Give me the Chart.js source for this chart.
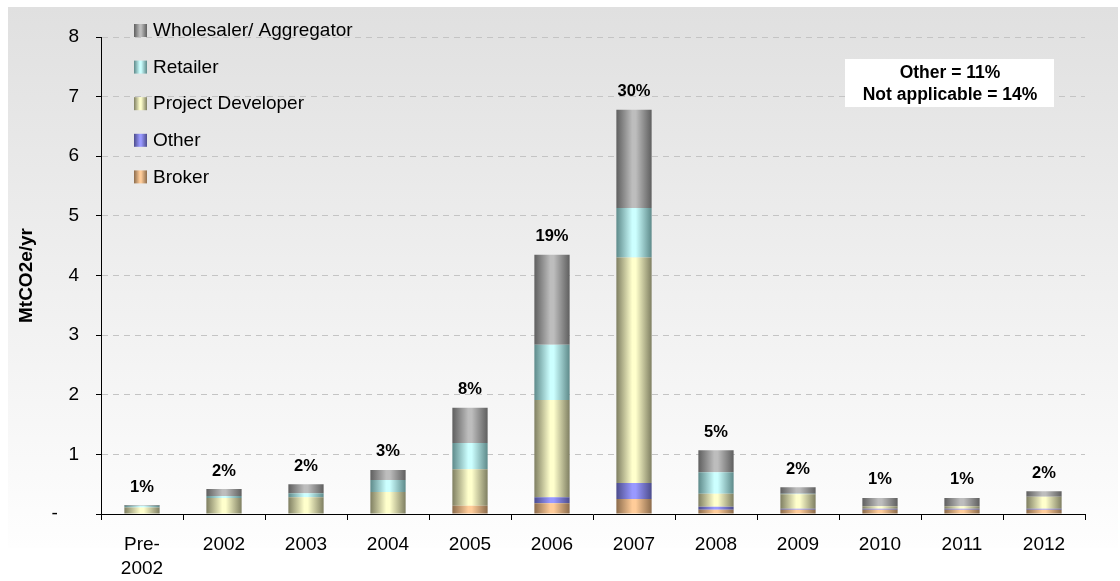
<!DOCTYPE html>
<html>
<head>
<meta charset="utf-8">
<script src="https://cdn.jsdelivr.net/npm/chart.js@4/dist/chart.umd.min.js"></script>
<style>
  html, body { margin: 0; padding: 0; background: #fff; }
  #wrap { width: 1120px; height: 581px; position: relative; }
</style>
</head>
<body>
<div id="wrap"><canvas id="offsetChart" width="1120" height="581"></canvas></div>
<script>
const categories = [["Pre-", "2002"], "2002", "2003", "2004", "2005", "2006", "2007", "2008", "2009", "2010", "2011", "2012"];
const broker     = [0, 0, 0, 0, 0.14, 0.18, 0.25, 0.07, 0.07, 0.07, 0.07, 0.07];
const other      = [0, 0, 0, 0, 0, 0.10, 0.27, 0.05, 0.02, 0.02, 0.02, 0.02];
const project    = [0.11, 0.27, 0.28, 0.37, 0.61, 1.63, 3.78, 0.22, 0.24, 0.04, 0.04, 0.20];
const retailer   = [0.03, 0.03, 0.07, 0.20, 0.44, 0.93, 0.83, 0.36, 0.01, 0, 0, 0];
const wholesaler = [0.01, 0.12, 0.15, 0.17, 0.59, 1.51, 1.65, 0.37, 0.11, 0.14, 0.14, 0.09];
const shareLabels = ["1%", "2%", "2%", "3%", "8%", "19%", "30%", "5%", "2%", "1%", "1%", "2%"];
const yTicks = [0, 1, 2, 3, 4, 5, 6, 7, 8];
const noteLines = ["Other = 11%", "Not applicable = 14%"];

const FONT = "Arial, 'Liberation Sans', sans-serif";
const BAR_PCT = 0.43;

// edge / centre colours for the cylinder-like shading
const shades = {
  broker:     ["#8c6c4c", "#ffcc99"],
  other:      ["#4c4c8c", "#9999ff"],
  project:    ["#7f7f62", "#ffffcc"],
  retailer:   ["#5e8a8a", "#ccffff"],
  wholesaler: ["#5f5f5f", "#bdbdbd"],
};

function shadeGradient(ctx, x0, x1, pair) {
  const g = ctx.createLinearGradient(x0, 0, x1, 0);
  g.addColorStop(0, pair[0]);
  g.addColorStop(0.45, pair[1]);
  g.addColorStop(0.55, pair[1]);
  g.addColorStop(1, pair[0]);
  return g;
}

function barFill(pair) {
  return (c) => {
    const chart = c.chart;
    const xs = chart.scales.x;
    if (!chart.chartArea || !xs || c.dataIndex === undefined) return pair[1];
    const cx = xs.getPixelForValue(c.dataIndex);
    const w = xs.width / categories.length * BAR_PCT;
    return shadeGradient(chart.ctx, cx - w / 2, cx + w / 2, pair);
  };
}

const backdrop = {
  id: "backdrop",
  beforeDraw(chart) {
    const ctx = chart.ctx;
    ctx.save();
    ctx.fillStyle = "#fff";
    ctx.fillRect(0, 0, chart.width, chart.height);
    const g = ctx.createLinearGradient(0, 7, 0, 548);
    g.addColorStop(0, "#e0e0e0");
    g.addColorStop(1, "#fefefe");
    ctx.fillStyle = g;
    ctx.fillRect(8, 7, 1110, 541);
    ctx.restore();
  }
};

const extras = {
  id: "extras",
  afterDraw(chart) {
    const ctx = chart.ctx;
    const xs = chart.scales.x, ys = chart.scales.y;
    ctx.save();
    // share labels above each stack
    ctx.fillStyle = "#000";
    ctx.font = "bold 16.5px " + FONT;
    ctx.textAlign = "center";
    ctx.textBaseline = "middle";
    shareLabels.forEach((t, i) => {
      const total = broker[i] + other[i] + project[i] + retailer[i] + wholesaler[i];
      ctx.fillText(t, xs.getPixelForValue(i), ys.getPixelForValue(total) - 18);
    });

    // legend, top-down reverse of the stack
    const ds = chart.data.datasets.slice().reverse();
    ctx.font = "19px " + FONT;
    ctx.textAlign = "left";
    ds.forEach((d, k) => {
      const cy = 30 + k * 36.6;
      ctx.fillStyle = shadeGradient(ctx, 134, 147, d.shade);
      ctx.fillRect(134, cy - 6, 13, 13);
      ctx.fillStyle = "#000";
      ctx.fillText(d.label, 153, cy + 1);
    });

    // note box
    ctx.fillStyle = "#fff";
    ctx.fillRect(845, 59, 209, 48);
    ctx.fillStyle = "#000";
    ctx.font = "bold 17.5px " + FONT;
    ctx.textAlign = "center";
    ctx.fillText(noteLines[0], 950, 73);
    ctx.fillText(noteLines[1], 950, 95);
    ctx.restore();
  }
};

function series(label, data, key) {
  return {
    label: label,
    data: data,
    shade: shades[key],
    backgroundColor: barFill(shades[key]),
    borderWidth: 0,
    barPercentage: BAR_PCT,
    categoryPercentage: 1,
  };
}

new Chart(document.getElementById("offsetChart"), {
  type: "bar",
  data: {
    labels: categories,
    datasets: [
      series("Broker", broker, "broker"),
      series("Other", other, "other"),
      series("Project Developer", project, "project"),
      series("Retailer", retailer, "retailer"),
      series("Wholesaler/ Aggregator", wholesaler, "wholesaler"),
    ],
  },
  options: {
    responsive: false,
    animation: false,
    layout: { padding: { top: 37, right: 35, left: 0, bottom: 0 } },
    plugins: {
      legend: { display: false },
      tooltip: { enabled: false },
    },
    scales: {
      x: {
        stacked: true,
        afterFit: (s) => { s.height = 67; },
        grid: {
          offset: true,
          drawOnChartArea: false,
          tickLength: 6,
          tickColor: "#000",
          color: "#000",
        },
        border: { color: "#000", width: 1 },
        ticks: {
          color: "#000",
          font: { family: FONT, size: 19, lineHeight: 1.3 },
          padding: 12,
          maxRotation: 0,
          autoSkip: false,
        },
      },
      y: {
        stacked: true,
        min: 0,
        max: 8,
        afterFit: (s) => { s.width = 101; },
        afterBuildTicks: (s) => { s.ticks = yTicks.map((v) => ({ value: v })); },
        grid: {
          color: "#c4c4c4",
          tickColor: "#000",
          tickLength: 5,
          tickBorderDash: [],
        },
        border: { color: "#000", width: 1, dash: [6, 5] },
        ticks: {
          color: "#000",
          font: { family: FONT, size: 19 },
          padding: 17,
          callback: (v) => (v === 0 ? "-    " : String(v)),
        },
        title: {
          display: true,
          text: "MtCO2e/yr",
          color: "#000",
          font: { family: FONT, size: 19, weight: "bold" },
          padding: { top: 15, bottom: 0 },
        },
      },
    },
  },
  plugins: [backdrop, extras],
});
</script>
</body>
</html>
